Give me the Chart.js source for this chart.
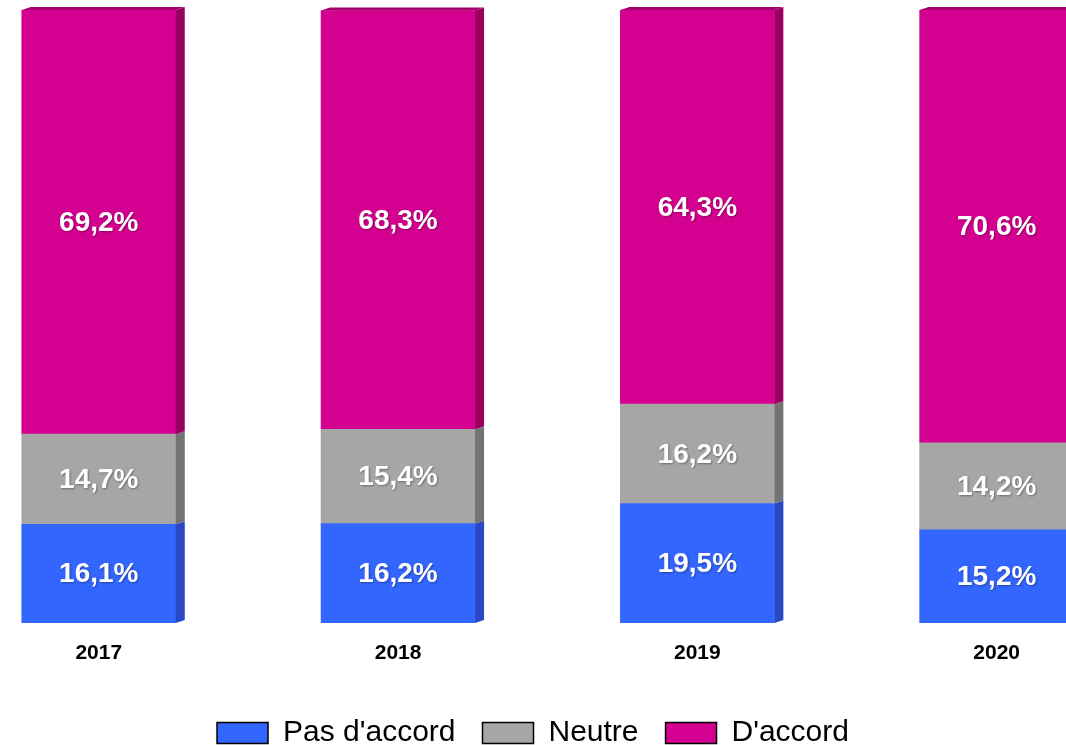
<!DOCTYPE html>
<html>
<head>
<meta charset="utf-8">
<script src="https://cdn.jsdelivr.net/npm/chart.js@4/dist/chart.umd.min.js"></script>
<style>
  html, body { margin: 0; padding: 0; background: #fff; overflow: hidden; }
  #wrap { position: absolute; left: 0; top: 0; width: 1066px; height: 758px; }
</style>
</head>
<body>
<div id="wrap"><canvas id="c"></canvas></div>
<script>
// ---- data ----
const years = ['2017', '2018', '2019', '2020'];
const pasDaccord = [16.1, 16.2, 19.5, 15.2];
const neutre = [14.7, 15.4, 16.2, 14.2];
const daccord = [69.2, 68.3, 64.3, 70.6];
const seriesNames = ["Pas d'accord", 'Neutre', "D'accord"];

// ---- styles ----
const frontColors = ['#3366ff', '#a6a6a6', '#d4008f'];
const sideColors = ['#2a48c4', '#737373', '#98005f'];
const topColor = '#a3006c';
const FONT = "'Liberation Sans', Arial, sans-serif";
const DX = 9, DY = 3;

const toPoints = arr => arr.map((v, i) => ({ x: i, y: v }));

const datasets = [pasDaccord, neutre, daccord].map((arr, k) => ({
  label: seriesNames[k],
  data: toPoints(arr),
  backgroundColor: frontColors[k],
  borderWidth: 0,
  barThickness: 154
}));

const bar3d = {
  id: 'bar3d',
  afterDatasetsDraw(chart) {
    const ctx = chart.ctx;
    const last = chart.data.datasets.length - 1;
    ctx.save();
    chart.data.datasets.forEach((ds, di) => {
      const meta = chart.getDatasetMeta(di);
      meta.data.forEach((bar) => {
        const p = bar.getProps(['x', 'y', 'base', 'width'], true);
        const l = p.x - p.width / 2, r = p.x + p.width / 2;
        const top = Math.min(p.y, p.base), bot = Math.max(p.y, p.base);
        ctx.fillStyle = sideColors[di];
        ctx.beginPath();
        ctx.moveTo(r, top);
        ctx.lineTo(r + DX, top - DY);
        ctx.lineTo(r + DX, bot - DY);
        ctx.lineTo(r, bot);
        ctx.closePath();
        ctx.fill();
        if (di === last) {
          ctx.fillStyle = topColor;
          ctx.beginPath();
          ctx.moveTo(l, top);
          ctx.lineTo(l + DX, top - DY);
          ctx.lineTo(r + DX, top - DY);
          ctx.lineTo(r, top);
          ctx.closePath();
          ctx.fill();
        }
      });
    });
    // value labels
    ctx.font = 'bold 28px ' + FONT;
    ctx.textAlign = 'center';
    ctx.textBaseline = 'middle';
    ctx.fillStyle = '#ffffff';
    ctx.shadowColor = 'rgba(0,0,0,0.35)';
    ctx.shadowBlur = 2;
    ctx.shadowOffsetX = 1;
    ctx.shadowOffsetY = 1;
    chart.data.datasets.forEach((ds, di) => {
      const meta = chart.getDatasetMeta(di);
      meta.data.forEach((bar, i) => {
        const p = bar.getProps(['x', 'y', 'base'], true);
        const v = ds.data[i].y;
        const txt = v.toFixed(1).replace('.', ',') + '%';
        ctx.fillText(txt, p.x, (p.y + p.base) / 2 + 1);
      });
    });
    ctx.restore();
  }
};

new Chart(document.getElementById('c'), {
  type: 'bar',
  data: { datasets },
  options: {
    responsive: true,
    maintainAspectRatio: false,
    animation: false,
    layout: { padding: { top: 10, left: 0, right: 0, bottom: 0 } },
    plugins: {
      tooltip: { enabled: false },
      legend: {
        position: 'bottom',
        labels: {
          boxWidth: 51,
          boxHeight: 21,
          padding: 27,
          color: '#000',
          font: { family: FONT, size: 30 },
          generateLabels(chart) {
            return chart.data.datasets.map((ds, i) => ({
              text: ds.label,
              fillStyle: frontColors[i],
              strokeStyle: '#000',
              lineWidth: 1.5,
              hidden: false,
              datasetIndex: i,
              fontColor: '#000'
            }));
          }
        }
      }
    },
    scales: {
      x: {
        type: 'linear',
        stacked: true,
        offset: false,
        min: -0.33,
        max: 3.2317,
        grid: { display: false, drawTicks: false, offset: false },
        border: { display: false },
        afterBuildTicks(scale) {
          scale.ticks = years.map((_, i) => ({ value: i }));
        },
        afterFit(scale) { scale.height = 68; },
        ticks: {
          autoSkip: false,
          padding: 18,
          color: '#000',
          font: { family: FONT, size: 21, weight: 'bold' },
          callback: (v) => years[v]
        }
      },
      y: {
        stacked: true,
        min: 0,
        max: 100,
        display: false
      }
    }
  },
  plugins: [bar3d]
});
</script>
</body>
</html>
